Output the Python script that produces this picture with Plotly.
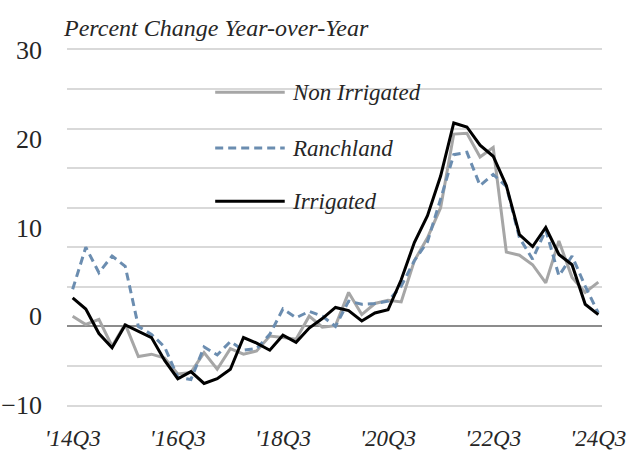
import plotly.graph_objects as go

# Quarterly percent change, year-over-year, 2014Q3 through 2024Q3
quarters = [f"{y}Q{q}" for y in range(2014, 2025) for q in range(1, 5)][2:43]

non_irrigated = [1.3, 0.25, 0.9, -2.5, 0.3, -3.8, -3.5, -4.0, -6.0, -5.8,
                 -3.3, -5.4, -2.8, -3.5, -3.1, -1.2, -1.4, -1.6, 1.3, -0.1,
                 0.1, 4.3, 1.5, 2.9, 3.3, 3.1, 8.3, 11.2, 15.0, 24.3,
                 24.4, 21.4, 22.6, 9.4, 9.0, 7.8, 5.5, 10.8, 6.2, 4.3, 5.6]

ranchland = [4.7, 10.0, 6.8, 8.9, 7.6, 0.0, -1.0, -2.6, -6.4, -6.7,
             -2.6, -3.6, -1.9, -3.0, -2.8, -1.0, 2.2, 1.1, 1.9, 1.3,
             0.0, 3.2, 2.8, 2.9, 3.2, 5.1, 8.3, 10.7, 16.1, 21.7,
             22.0, 17.8, 19.2, 17.7, 11.2, 8.5, 12.2, 6.4, 8.9, 5.1, 1.7]

irrigated = [3.6, 2.2, -0.9, -2.7, 0.2, -0.6, -1.4, -4.3, -6.6, -5.7,
             -7.2, -6.6, -5.4, -1.4, -2.1, -3.0, -1.1, -2.0, -0.2, 1.0,
             2.4, 2.0, 0.7, 1.7, 2.1, 5.9, 10.6, 14.0, 19.0, 25.7,
             25.2, 22.9, 21.5, 17.8, 11.6, 10.1, 12.5, 9.1, 7.8, 2.8, 1.5]

x_ticks = ["2014Q3", "2016Q3", "2018Q3", "2020Q3", "2022Q3", "2024Q3"]
x_tick_text = ["'14Q3", "'16Q3", "'18Q3", "'20Q3", "'22Q3", "'24Q3"]
y_label_vals = [-10, 0, 10, 20, 30]

idx = list(range(len(quarters)))
tick_idx = [quarters.index(q) for q in x_ticks]

GRAY = "#a6a6a6"
BLUE = "#6b8db0"
BLACK = "#000000"
FONT = "Liberation Serif"
TEXT = "#262626"

series = [
    ("Non Irrigated", non_irrigated, dict(color=GRAY, width=3)),
    ("Ranchland", ranchland, dict(color=BLUE, width=3, dash="8px,5px")),
    ("Irrigated", irrigated, dict(color=BLACK, width=3)),
]

fig = go.Figure()
for name, vals, line in series:
    fig.add_trace(go.Scatter(x=idx, y=vals, mode="lines", name=name,
                             line=line, showlegend=False))

# Empty trace so the label axis is drawn
fig.add_trace(go.Scatter(x=[], y=[], yaxis="y2", showlegend=False,
                         hoverinfo="skip"))

fig.update_layout(
    width=641, height=453,
    margin=dict(l=67, r=39, t=47, b=45),
    paper_bgcolor="white", plot_bgcolor="white",
    font=dict(family=FONT, color=TEXT),
    xaxis=dict(range=[-0.43, 40.28], tickvals=tick_idx, ticktext=x_tick_text,
               showgrid=False, zeroline=False, showline=False, automargin=False,
               ticks="", ticklabelstandoff=14,
               tickfont=dict(family=FONT, size=23, style="italic", color=TEXT)),
    yaxis=dict(range=[-10.3, 35.3], dtick=5, showticklabels=False,
               showgrid=True, gridcolor="#d9d9d9", gridwidth=1.5,
               zeroline=True, zerolinecolor="#8c8c8c", zerolinewidth=1.5,
               showline=False, ticks="", automargin=False),
    yaxis2=dict(range=[-10.34, 30.34],
                tickvals=y_label_vals, overlaying="y", anchor="x",
                side="left", showgrid=False, zeroline=False, showline=False,
                ticks="", ticklabelstandoff=24, automargin=False,
                tickfont=dict(family=FONT, size=26, color=TEXT)),
)

# Chart title
fig.add_annotation(text="Percent Change Year-over-Year", xref="paper", yref="paper",
                   x=-0.011, y=1.0, yshift=19, xanchor="left", yanchor="middle",
                   showarrow=False,
                   font=dict(family=FONT, size=24, style="italic", color=TEXT))

# Legend drawn as long line samples with italic labels
legend_rows = [0.875, 0.720, 0.573]
for (name, _, line), ly in zip(series, legend_rows):
    fig.add_shape(type="line", xref="paper", yref="paper",
                  x0=0.277, x1=0.407, y0=ly, y1=ly, line=line)
    fig.add_annotation(text=name, xref="paper", yref="paper",
                       x=0.417, y=ly, xanchor="left", yanchor="middle",
                       showarrow=False,
                       font=dict(family=FONT, size=23, style="italic", color=TEXT))

fig.write_html("out.html")
